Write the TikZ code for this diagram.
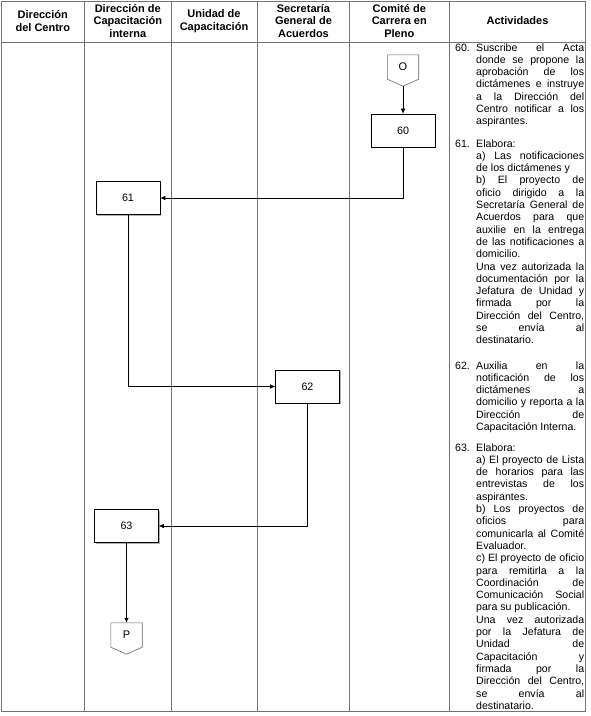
\documentclass[tikz,border=0pt]{standalone}
\usepackage{fontspec}
\setmainfont{Liberation Sans}
\usetikzlibrary{arrows.meta,shadows}
\tolerance=10000
\hbadness=10000

\newcommand{\actnum}[1]{\hangindent=21pt\hangafter=1\noindent\makebox[21pt][l]{#1.}}

\tikzset{
  lane/.style={draw=black!55, line width=0.7pt},
  head/.style={font=\fontsize{11}{12.6}\selectfont\bfseries, align=center, inner sep=0pt},
  proc/.style={draw, fill=white, line width=0.6pt, minimum width=64pt, minimum height=33pt,
    inner sep=0pt, font=\fontsize{10.7}{12}\selectfont,
    general shadow={fill=black!30, shadow xshift=1pt, shadow yshift=-1.2pt}},
  offpage/.style={minimum width=31pt, minimum height=24pt, inner sep=0pt, font=\fontsize{11}{12}\selectfont},
  pent/.style={draw=black!60, line width=0.6pt},
  flow/.style={draw, line width=0.6pt, -{Latex[length=5pt,width=4.5pt]}},
  act/.style={anchor=base west, inner sep=0pt, text width=129pt, align=justify,
    font=\fontsize{10.6}{12.3}\selectfont}
}

\begin{document}
\begin{tikzpicture}[x=1pt,y=-1pt]
\useasboundingbox (0,0) rectangle (590,716);

% --- Table and lanes ---
\draw[lane] (1,1) rectangle (585.5,711);
\draw[lane] (1,42) -- (585.5,42);
\foreach \x in {84.6,171,257.5,349.6,449} \draw[lane] (\x,1) -- (\x,711);

% --- Headers ---
\foreach \x/\name/\lab in {42.8/hCentro/{Dirección\\del Centro},
  127.8/hDCI/{Dirección de\\Capacitación\\interna},
  214/hUnidad/{Unidad de\\Capacitación},
  303.5/hSGA/{Secretaría\\General de\\Acuerdos},
  399.3/hComite/{Comité de\\Carrera en\\Pleno},
  517.5/hAct/{Actividades}}
  \node[head] (\name) at (\x,21) {\lab};

% --- Off-page connector O ---
\node[offpage] (O) at (403,67) {O};
\draw[pent] (O.north west) -- (O.north east) -- (O.south east) -- ([yshift=-7pt]O.south) -- (O.south west) -- cycle;
\coordinate (Otip) at ([yshift=-7pt]O.south);

% --- Steps ---
\node[proc] (b60) at (403,130.5) {60};
\node[proc] (b61) at (128,198) {61};
\node[proc] (b62) at (307.5,386.5) {62};
\node[proc] (b63) at (126.5,526) {63};

% --- Off-page connector P ---
\node[offpage] (P) at (126.5,635) {P};
\draw[pent] (P.north west) -- (P.north east) -- (P.south east) -- ([yshift=-7pt]P.south) -- (P.south west) -- cycle;

% --- Flow ---
\draw[flow] (Otip) -- (b60);
\draw[flow] (b60) |- (b61);
\draw[flow] (b61) |- (b62);
\draw[flow] (b62) |- (b63);
\draw[flow] (b63) -- (P);

% --- Activities ---
\node[act] (a60) at (455,51) {\actnum{60}Suscribe el Acta\break donde se propone la\break aprobación de los\break dictámenes e instruye\break a la Dirección del\break Centro notificar a los\break aspirantes.\par};

\node[act] (a61) at (455,147) {\actnum{61}Elabora:\hfil\break a) Las notificaciones\break de los dictámenes y\hfil\break b) El proyecto de\break oficio dirigido a la\break Secretaría General de\break Acuerdos para que\break auxilie en la entrega\break de las notificaciones a\break domicilio.\hfil\break Una vez autorizada la\break documentación por la\break Jefatura de Unidad y\break firmada por la\break Dirección del Centro,\break se envía al\break destinatario.\par};

\node[act] (a62) at (455,369) {\actnum{62}Auxilia en la\break notificación de los\break dictámenes a\break domicilio y reporta a la\break Dirección de\break Capacitación Interna.\par};

\node[act] (a63) at (455,451) {\actnum{63}Elabora:\hfil\break a) El proyecto de Lista\break de horarios para las\break entrevistas de los\break aspirantes.\hfil\break b) Los proyectos de\break oficios para\break comunicarla al Comité\break Evaluador.\hfil\break c) El proyecto de oficio\break para remitirla a la\break Coordinación de\break Comunicación Social\break para su publicación.\hfil\break Una vez autorizada\break por la Jefatura de\break Unidad de\break Capacitación y\break firmada por la\break Dirección del Centro,\break se envía al\break destinatario.\par};

\end{tikzpicture}
\end{document}
